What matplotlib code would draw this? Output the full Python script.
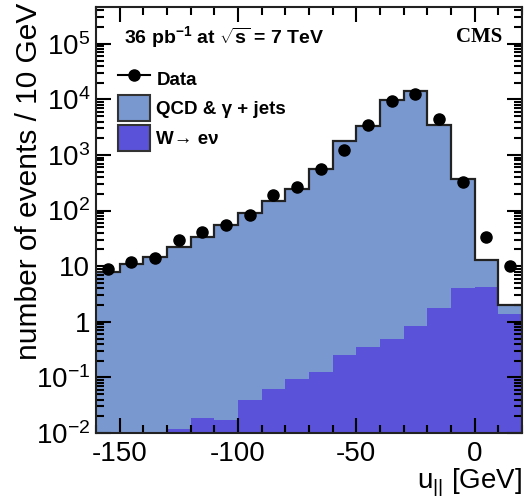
import numpy as np
import matplotlib
matplotlib.use("Agg")
import matplotlib.pyplot as plt
from matplotlib.patches import Patch
from matplotlib.lines import Line2D
from matplotlib.ticker import FixedLocator, FuncFormatter, LogLocator, NullFormatter

plt.rcParams['font.family'] = ['Liberation Sans', 'DejaVu Sans']
plt.rcParams['mathtext.fontset'] = 'custom'
plt.rcParams['mathtext.rm'] = 'Liberation Sans'
plt.rcParams['mathtext.it'] = 'Liberation Sans:italic'
plt.rcParams['mathtext.bf'] = 'Liberation Sans:bold'

# ---- data (u_parallel, 10 GeV bins) ----
bin_edges = np.arange(-160, 30, 10)
total_mc = [7.8, 11, 14.6, 22, 33, 56, 89, 150, 245, 550, 1790, 3260, 9700, 14200, 3400, 365, 13, 2.0]
w_enu = [0.008, 0.008, 0.008, 0.012, 0.019, 0.017, 0.039, 0.063, 0.093, 0.127, 0.25, 0.35, 0.50, 0.83, 1.8, 4.0, 4.2, 1.4]
data_counts = [8.8, 12, 14, 29, 41, 56, 84, 194, 265, 570, 1240, 3500, 9300, 12700, 4500, 325, 34, 10]

qcd_color = '#7a98d0'
w_color = '#5a52d8'

fig = plt.figure(figsize=(5.24, 4.98), dpi=100)
ax = fig.add_axes([0.183, 0.1305, 0.813, 0.8545])

edges = np.array(bin_edges, dtype=float)
tot = np.array(total_mc)
w = np.array(w_enu)
centers = 0.5 * (edges[:-1] + edges[1:])

ax.stairs(w, edges, baseline=1e-6, fill=True, color=w_color, zorder=1)
ax.stairs(tot, edges, baseline=w, fill=True, color=qcd_color, zorder=1)
ax.stairs(tot, edges, baseline=None, color='#222222', lw=1.6, zorder=2)
ax.plot(centers, data_counts, 'o', color='black', ms=8, zorder=3)

ax.set_yscale('log')
ax.set_xlim(-160, 20)
ax.set_ylim(1e-2, 4.5e5)

ax.xaxis.set_major_locator(FixedLocator([-150, -100, -50, 0]))
ax.xaxis.set_minor_locator(FixedLocator(np.arange(-160, 21, 10)))
ax.yaxis.set_major_locator(LogLocator(base=10, numticks=20))
ax.yaxis.set_minor_locator(LogLocator(base=10, subs=np.arange(2, 10), numticks=50))
ax.yaxis.set_minor_formatter(NullFormatter())

def yfmt(v, pos):
    e = int(round(np.log10(v)))
    if e == 0:
        return '1'
    if e == 1:
        return '10'
    return r'$10^{%d}$' % e

ax.yaxis.set_major_formatter(FuncFormatter(yfmt))
ax.xaxis.set_major_formatter(FuncFormatter(lambda v, p: '%d' % v))

ax.tick_params(which='both', direction='in', top=True, right=True, labelsize=20, width=1.5)
ax.tick_params(which='major', length=11)
ax.tick_params(which='minor', length=6)
ax.tick_params(axis='x', pad=6)
ax.tick_params(axis='y', pad=4)
for s in ax.spines.values():
    s.set_linewidth(1.5)
    s.set_color('#222222')

fig.text(0.0555, 0.994, 'number of events / 10 GeV', fontsize=21.5, rotation=90,
         ha='center', va='top')
ax.set_xlabel(r'u$_{||}$ [GeV]', fontsize=20)
ax.xaxis.set_label_coords(1.0, -0.079)
ax.xaxis.label.set_ha('right')

ax.text(0.065, 0.931, r'36 pb$^{\mathbf{-1}}$ at $\sqrt{\mathbf{s}}$ = 7 TeV', transform=ax.transAxes,
        fontsize=14, fontweight='bold', ha='left', va='center')
ax.text(0.955, 0.931, 'CMS', transform=ax.transAxes, fontsize=15, fontweight='bold',
        family='Liberation Serif', ha='right', va='center')

handles = [
    Line2D([], [], color='black', marker='o', ms=8, lw=1.5),
    Patch(facecolor=qcd_color, edgecolor='#333333', lw=1.5),
    Patch(facecolor=w_color, edgecolor='#333333', lw=1.5),
]
labels = ['Data', 'QCD & γ + jets', 'W→ eν']
leg = ax.legend(handles, labels, loc='upper left', bbox_to_anchor=(0.052, 0.8635),
                frameon=False, borderpad=0, borderaxespad=0, handlelength=1.7,
                handleheight=1.75, labelspacing=0.2, handletextpad=0.35,
                prop={'size': 13.5, 'weight': 'bold'})

fig.savefig('out.png', dpi=100)
